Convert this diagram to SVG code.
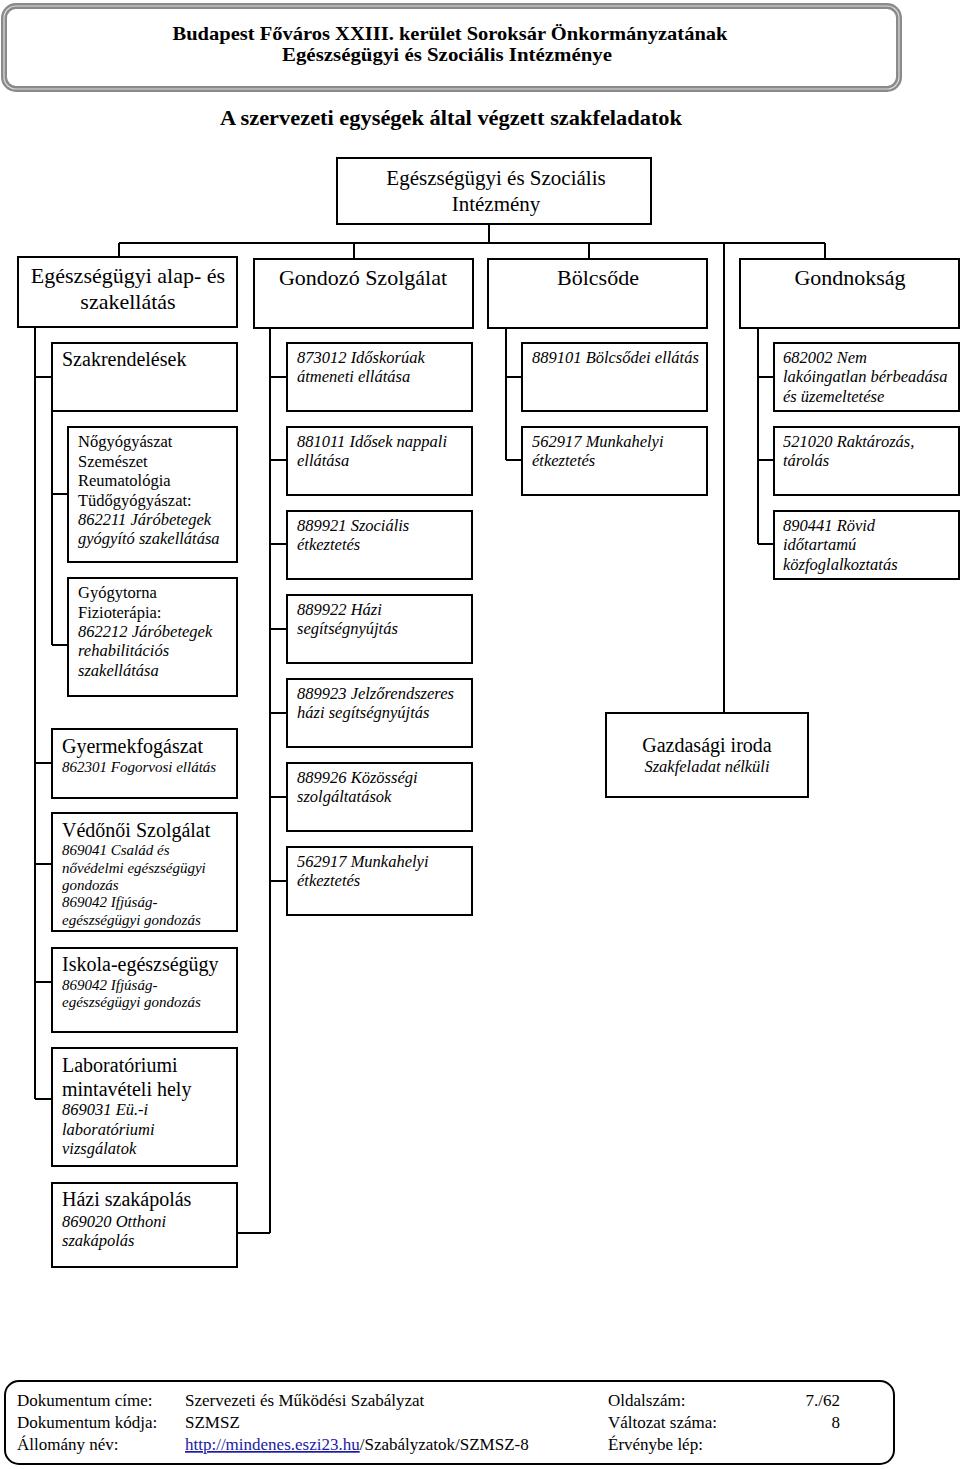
<svg xmlns="http://www.w3.org/2000/svg" width="960" height="1469" viewBox="0 0 960 1469">
<style>
.box{fill:#fff;stroke:#000;stroke-width:2}
.t{font-family:'Liberation Serif','Times New Roman',serif;fill:#000}
.b{font-weight:bold}
.h22{font-size:22px}
.h21{font-size:21px}
.h20{font-size:20px}
.n{font-size:16.5px}
.i{font-size:16.5px;font-style:italic}
.s{font-size:15px;font-style:italic}
.f{font-size:17px}
.c{text-anchor:middle}
.e{text-anchor:end}
.conn{fill:none;stroke:#000;stroke-width:2}
</style>
<defs>
<clipPath id="vclip"><rect x="53" y="814" width="183" height="115"/></clipPath>
</defs>

<g id="header">
<rect x="4" y="6" width="895" height="83" rx="12" fill="#fff" stroke="#8a8a8a" stroke-width="6"/>
<rect x="4" y="6" width="895" height="83" rx="12" fill="none" stroke="#dcdcdc" stroke-width="1.2"/>
<text class="t b c" x="450" y="40" font-size="19" textLength="555" lengthAdjust="spacingAndGlyphs">Budapest Főváros XXIII. kerület Soroksár Önkormányzatának</text>
<text class="t b c" x="447" y="61" font-size="19" textLength="330" lengthAdjust="spacingAndGlyphs">Egészségügyi és Szociális Intézménye</text>
</g>
<g id="title">
<text class="t b c" x="451" y="125" font-size="21" textLength="462" lengthAdjust="spacingAndGlyphs">A szervezeti egységek által végzett szakfeladatok</text>
</g>

<g id="connectors">
<path class="conn" d="M489,224 V243 M119,243 H825 M119,243 V257 M354,243 V259 M589,243 V259 M825,243 V259 M724,243 V713"/>
<path class="conn" d="M35,327 V1099 M35,377 H52 M35,763 H52 M35,864 H52 M35,982 H52 M35,1099 H52"/>
<path class="conn" d="M52,411 V645 M52,494 H68 M52,645 H68"/>
<path class="conn" d="M270,328 V1233 M270,377 H287 M270,460 H287 M270,544 H287 M270,629 H287 M270,713 H287 M270,797 H287 M270,881 H287 M237,1233 H270"/>
<path class="conn" d="M506,328 V460 M506,377 H522 M506,460 H522"/>
<path class="conn" d="M758,328 V544 M758,377 H774 M758,460 H774 M758,544 H774"/>
</g>

<g id="root">
<rect class="box" x="337" y="158" width="314" height="66"/>
<text class="t h21 c" x="496" y="185">Egészségügyi és Szociális</text>
<text class="t h21 c" x="496" y="211">Intézmény</text>
</g>

<g id="alap">
<rect class="box" x="18" y="257" width="219" height="70"/>
<text class="t h22 c" x="128" y="283">Egészségügyi alap- és</text>
<text class="t h22 c" x="128" y="309">szakellátás</text>
</g>
<g id="gondozo">
<rect class="box" x="254" y="259" width="219" height="69"/>
<text class="t h22 c" x="363" y="285">Gondozó Szolgálat</text>
</g>
<g id="bolcsode">
<rect class="box" x="488" y="259" width="219" height="69"/>
<text class="t h22 c" x="598" y="285">Bölcsőde</text>
</g>
<g id="gondnoksag">
<rect class="box" x="740" y="259" width="219" height="69"/>
<text class="t h22 c" x="850" y="285">Gondnokság</text>
</g>

<g id="szakrend">
<rect class="box" x="52" y="343" width="185" height="68"/>
<text class="t h20" x="62" y="366">Szakrendelések</text>
</g>
<g id="nogy">
<rect class="box" x="68" y="427" width="169" height="135"/>
<text class="t n" x="78" y="447">Nőgyógyászat</text>
<text class="t n" x="78" y="466.5">Szemészet</text>
<text class="t n" x="78" y="486">Reumatológia</text>
<text class="t n" x="78" y="505.5">Tüdőgyógyászat:</text>
<text class="t i" x="78" y="525">862211 Járóbetegek</text>
<text class="t i" x="78" y="544">gyógyító szakellátása</text>
</g>
<g id="gyogy">
<rect class="box" x="68" y="578" width="169" height="118"/>
<text class="t n" x="78" y="598">Gyógytorna</text>
<text class="t n" x="78" y="617.5">Fizioterápia:</text>
<text class="t i" x="78" y="637">862212 Járóbetegek</text>
<text class="t i" x="78" y="656">rehabilitációs</text>
<text class="t i" x="78" y="675.5">szakellátása</text>
</g>
<g id="gyermek">
<rect class="box" x="52" y="729" width="185" height="69"/>
<text class="t h20" x="62" y="753">Gyermekfogászat</text>
<text class="t s" x="62" y="772">862301 Fogorvosi ellátás</text>
</g>
<g id="vedo">
<rect class="box" x="52" y="813" width="185" height="118"/>
<text class="t h20" x="62" y="837">Védőnői Szolgálat</text>
<g clip-path="url(#vclip)">
<text class="t s" x="62" y="855">869041 Család és</text>
<text class="t s" x="62" y="872.5">nővédelmi egészségügyi</text>
<text class="t s" x="62" y="890">gondozás</text>
<text class="t s" x="62" y="907">869042 Ifjúság-</text>
<text class="t s" x="62" y="924.5">egészségügyi gondozás</text>
</g>
</g>
<g id="iskola">
<rect class="box" x="52" y="948" width="185" height="84"/>
<text class="t h20" x="62" y="971">Iskola-egészségügy</text>
<text class="t s" x="62" y="989.5">869042 Ifjúság-</text>
<text class="t s" x="62" y="1007">egészségügyi gondozás</text>
</g>
<g id="labor">
<rect class="box" x="52" y="1048" width="185" height="118"/>
<text class="t h20" x="62" y="1072">Laboratóriumi</text>
<text class="t h20" x="62" y="1095.5">mintavételi hely</text>
<text class="t i" x="62" y="1115">869031 Eü.-i</text>
<text class="t i" x="62" y="1134.5">laboratóriumi</text>
<text class="t i" x="62" y="1153.5">vizsgálatok</text>
</g>
<g id="hazi">
<rect class="box" x="52" y="1183" width="185" height="84"/>
<text class="t h20" x="62" y="1206">Házi szakápolás</text>
<text class="t i" x="62" y="1226.5">869020 Otthoni</text>
<text class="t i" x="62" y="1246">szakápolás</text>
</g>

<g id="g1"><rect class="box" x="287" y="343" width="185" height="68"/>
<text class="t i" x="297" y="363">873012 Időskorúak</text><text class="t i" x="297" y="382">átmeneti ellátása</text></g>
<g id="g2"><rect class="box" x="287" y="427" width="185" height="68"/>
<text class="t i" x="297" y="447">881011 Idősek nappali</text><text class="t i" x="297" y="466">ellátása</text></g>
<g id="g3"><rect class="box" x="287" y="511" width="185" height="68"/>
<text class="t i" x="297" y="531">889921 Szociális</text><text class="t i" x="297" y="550">étkeztetés</text></g>
<g id="g4"><rect class="box" x="287" y="595" width="185" height="68"/>
<text class="t i" x="297" y="615">889922 Házi</text><text class="t i" x="297" y="634">segítségnyújtás</text></g>
<g id="g5"><rect class="box" x="287" y="679" width="185" height="68"/>
<text class="t i" x="297" y="699">889923 Jelzőrendszeres</text><text class="t i" x="297" y="718">házi segítségnyújtás</text></g>
<g id="g6"><rect class="box" x="287" y="763" width="185" height="68"/>
<text class="t i" x="297" y="783">889926 Közösségi</text><text class="t i" x="297" y="802">szolgáltatások</text></g>
<g id="g7"><rect class="box" x="287" y="847" width="185" height="68"/>
<text class="t i" x="297" y="867">562917 Munkahelyi</text><text class="t i" x="297" y="886">étkeztetés</text></g>

<g id="b1"><rect class="box" x="522" y="343" width="185" height="68"/>
<text class="t i" x="532" y="363">889101 Bölcsődei ellátás</text></g>
<g id="b2"><rect class="box" x="522" y="427" width="185" height="68"/>
<text class="t i" x="532" y="447">562917 Munkahelyi</text><text class="t i" x="532" y="466">étkeztetés</text></g>

<g id="m1"><rect class="box" x="774" y="343" width="185" height="68"/>
<text class="t i" x="783" y="363">682002 Nem</text><text class="t i" x="783" y="382">lakóingatlan bérbeadása</text><text class="t i" x="783" y="401.5">és üzemeltetése</text></g>
<g id="m2"><rect class="box" x="774" y="427" width="185" height="68"/>
<text class="t i" x="783" y="447">521020 Raktározás,</text><text class="t i" x="783" y="466">tárolás</text></g>
<g id="m3"><rect class="box" x="774" y="511" width="185" height="68"/>
<text class="t i" x="783" y="531">890441 Rövid</text><text class="t i" x="783" y="550">időtartamú</text><text class="t i" x="783" y="569.5">közfoglalkoztatás</text></g>

<g id="gazd"><rect class="box" x="606" y="713" width="202" height="84"/>
<text class="t h20 c" x="707" y="752">Gazdasági iroda</text>
<text class="t i c" x="707" y="772">Szakfeladat nélküli</text></g>

<g id="footer">
<rect x="5" y="1381" width="889" height="83" rx="14" fill="#fff" stroke="#000" stroke-width="2"/>
<text class="t f" x="17" y="1406">Dokumentum címe:</text>
<text class="t f" x="185" y="1406">Szervezeti és Működési Szabályzat</text>
<text class="t f" x="608" y="1406">Oldalszám:</text>
<text class="t f e" x="840" y="1406">7./62</text>
<text class="t f" x="17" y="1428">Dokumentum kódja:</text>
<text class="t f" x="185" y="1428">SZMSZ</text>
<text class="t f" x="608" y="1428">Változat száma:</text>
<text class="t f e" x="840" y="1428">8</text>
<text class="t f" x="17" y="1450">Állomány név:</text>
<text class="t f" x="185" y="1450"><tspan fill="#1a1aa6" text-decoration="underline">http://mindenes.eszi23.hu</tspan>/Szabályzatok/SZMSZ-8</text>
<text class="t f" x="608" y="1450">Érvénybe lép:</text>
</g>
</svg>
